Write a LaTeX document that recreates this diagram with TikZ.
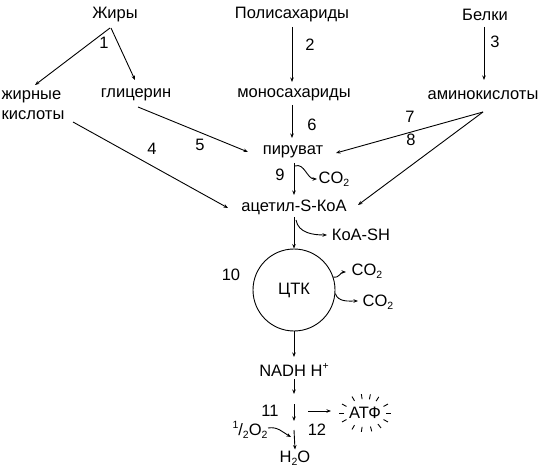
\documentclass[tikz,border=0pt]{standalone}
\usepackage{fontspec}
\setmainfont{Liberation Sans}
\usetikzlibrary{calc,arrows.meta}
\newcommand{\mysub}[1]{\raisebox{-0.35ex}{\fontsize{10.5}{10.5}\selectfont #1}}
\newcommand{\mysup}[1]{\raisebox{0.75ex}{\fontsize{10.5}{10.5}\selectfont #1}}
\begin{document}
\begin{tikzpicture}[x=1pt,y=1pt,
  txt/.style={inner sep=1pt,font=\fontsize{16.5}{19.5}\selectfont},
  num/.style={inner sep=1pt,font=\fontsize{16.5}{19.5}\selectfont},
  arr/.style={line width=0.9pt,-{Stealth[length=4.5pt,width=3.5pt]}},
  ray/.style={line width=0.9pt}]
\useasboundingbox (0,0) rectangle (544,-468);
% nodes
\node[txt] (fat) at (115,-15) {Жиры};
\node[txt] (poly) at (292,-15) {Полисахариды};
\node[txt] (prot) at (485,-15) {Белки};
\node[txt,align=left] (fa) at (33,-105) {жирные\\кислоты};
\node[txt] (gly) at (136,-95) {глицерин};
\node[txt] (mono) at (294,-95) {моносахариды};
\node[txt] (amino) at (483,-95) {аминокислоты};
\node[txt] (pyr) at (293,-152) {пируват};
\node[txt] (acet) at (294,-207) {ацетил-S-КоА};
\node[txt] (co2a) at (334,-179) {CO\mysub{2}};
\node[txt] (koash) at (361,-235) {КоА-SH};
\node[circle,draw,line width=0.9pt,minimum size=82pt,inner sep=0pt,font=\fontsize{16.5}{19.5}\selectfont] (tca) at (294,-290) {ЦТК};
\node[txt] (co2b) at (367,-271) {CO\mysub{2}};
\node[txt] (co2c) at (378,-302) {CO\mysub{2}};
\node[txt] (nadh) at (294,-370) {NADH H\mysup{+}};
\node[txt] (atp) at (365,-413) {АТФ};
\node[txt] (o2) at (250,-430) {\mysup{1}/\mysub{2}O\mysub{2}};
\node[txt] (h2o) at (295,-458) {H\mysub{2}O};
% numbers
\node[num] (n1) at (104,-43) {1};
\node[num] (n2) at (310,-45) {2};
\node[num] (n3) at (495,-42) {3};
\node[num] (n4) at (152,-149) {4};
\node[num] (n5) at (200,-145) {5};
\node[num] (n6) at (312,-125) {6};
\node[num] (n7) at (410,-117) {7};
\node[num] (n8) at (411,-140) {8};
\node[num] (n9) at (280,-175) {9};
\node[num] (n10) at (231,-275) {10};
\node[num] (n11) at (270,-411) {11};
\node[num] (n12) at (317,-430) {12};
% connectors
\draw[arr] ($(fat)+(-5,-13)$) -- ($(fa)+(2,20)$);
\draw[arr] ($(fat)+(-4,-13)$) -- ($(gly)+(-1,15)$);
\draw[arr] ($(poly)+(0,-12)$) -- ($(mono)+(-2,13)$);
\draw[arr] ($(prot)+(-1,-12)$) -- ($(amino)+(1,15)$);
\draw[arr] ($(mono)+(-2,-10)$) -- ($(pyr)+(-1,14)$);
\draw[arr] ($(gly)+(2,-12)$) -- ($(pyr)+(-45,0)$);
\draw[arr] ($(fa)+(40,-17)$) -- ($(acet)+(-66,-1)$);
\draw[arr] ($(amino)+(0,-17)$) -- ($(pyr)+(43,-1)$);
\draw[arr] ($(amino)+(0,-17)$) -- ($(acet)+(64,2)$);
\draw[arr] ($(pyr)+(1,-11)$) -- ($(acet)+(0,12)$);
\draw[arr] ($(pyr)+(2,-14)$) to[out=20,in=180] ($(co2a)+(-17,0)$);
\draw[arr] ($(acet)+(0,-10)$) -- (tca.north);
\draw[arr] ($(acet)+(2,-13)$) to[out=-80,in=180] ($(koash)+(-34,0)$);
\draw[arr] (tca.18) to[out=-15,in=180] ($(co2b)+(-21,-1)$);
\draw[arr] (tca.-5) to[out=-70,in=180] ($(co2c)+(-20,1)$);
\draw[arr] (tca.south) -- ($(nadh)+(0,13)$);
\coordinate (m1) at (294,-404);
\coordinate (m2) at (294,-430);
\coordinate (m3) at (308,-411);
\draw[arr] ($(nadh)+(0,-9)$) -- ($(nadh)+(0,-24)$);
\draw[arr] (m1) -- ($(m1)+(0,-17)$);
\draw[arr] (m2) -- (h2o.north);
\draw[arr] (m3) -- ($(atp)+(-34,2)$);
\draw[arr] ($(o2)+(18,2)$) to[out=10,in=150] ($(m2)+(-3,-7)$);
% burst
\foreach \a in {0,28,58,78,98,120,152,180,208,240,262,285,308,332}{
  \draw[ray] ($(atp)+({21*cos(\a)},{14*sin(\a)})$) -- ($(atp)+({26*cos(\a)},{19*sin(\a)})$);
}
\end{tikzpicture}
\end{document}
